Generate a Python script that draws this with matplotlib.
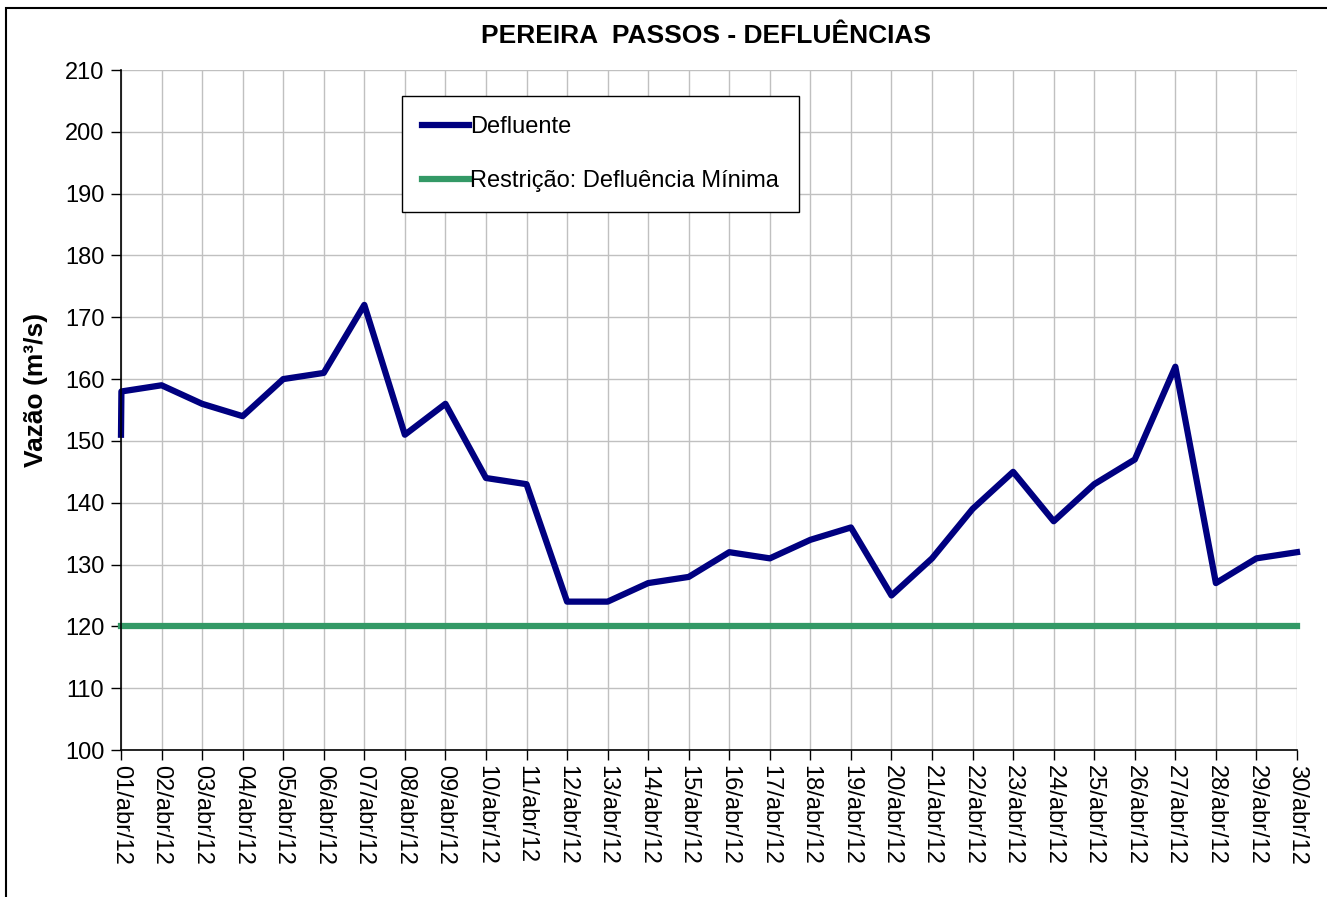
import matplotlib
matplotlib.use("Agg")
import matplotlib.pyplot as plt
from matplotlib.patches import Rectangle

plt.rcParams["font.family"] = ["Liberation Sans", "DejaVu Sans"]

# data
days = [f"{d:02d}/abr/12" for d in range(1, 31)]
day_pos = [0.0, 0.01] + list(range(1, 30))
defluente = [151, 158, 159, 156, 154, 160, 161, 172, 151, 156, 144, 143, 124, 124, 127,
             128, 132, 131, 134, 136, 125, 131, 139, 145, 137, 143, 147, 162, 127, 131, 132]
restricao = [120] * 30

fig = plt.figure(figsize=(13.27, 8.97), dpi=100)
W, H = 1327, 897
ax = fig.add_axes([121 / W, 1 - 750 / H, (1297 - 121) / W, (750 - 70) / H])

# outer chart border
fig.patches.append(Rectangle((6 / W, -0.1), 1.2, 1 - 8 / H + 0.1, transform=fig.transFigure,
                             fill=False, edgecolor="black", linewidth=1.5))

ax.plot(day_pos, defluente, color="#000080", linewidth=4.5, label="Defluente",
        clip_on=False, zorder=3)
ax.plot(range(30), restricao, color="#339966", linewidth=4.5,
        label="Restrição: Defluência Mínima", clip_on=False, zorder=3)

ax.set_xlim(0, 29)
ax.set_ylim(100, 210)
ax.set_yticks(range(100, 211, 10))
ax.set_xticks(range(30))
ax.set_xticklabels(days, rotation=270, fontsize=17)
ax.tick_params(axis="y", labelsize=17, direction="out", length=7, width=1, pad=5)
ax.tick_params(axis="x", direction="out", length=7, width=1, pad=4)
ax.grid(True, color="#c0c0c0", linewidth=1)
ax.set_axisbelow(True)
for side in ("top", "right"):
    ax.spines[side].set_visible(False)
for side in ("left", "bottom"):
    ax.spines[side].set_linewidth(1.2)
    ax.spines[side].set_zorder(4)

ax.set_ylabel("Vazão (m³/s)", fontsize=19, fontweight="bold")
ax.yaxis.set_label_coords(-0.062, 0.53)
fig.text(706 / W, 1 - 36 / H, "PEREIRA  PASSOS - DEFLUÊNCIAS", ha="center", va="center",
         fontsize=19, fontweight="bold")

leg = ax.legend(loc="upper left", bbox_to_anchor=((402 - 121) / (1297 - 121), 1 - (96 - 70) / 680),
                fontsize=17, frameon=True, fancybox=False, edgecolor="black", framealpha=1,
                handlelength=2.0, handletextpad=0.05, labelspacing=1.35, borderpad=0.85,
                borderaxespad=0)
leg.get_frame().set_linewidth(1)

fig.savefig("out.png", dpi=100)
